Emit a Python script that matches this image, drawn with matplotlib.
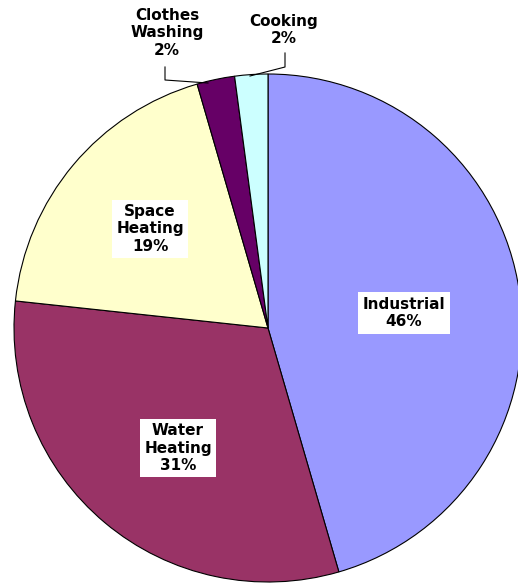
import numpy as np
import matplotlib.pyplot as plt

# slice data (clockwise from 12 o'clock)
categories = ["Industrial", "Water\nHeating", "Space\nHeating", "Clothes\nWashing", "Cooking"]
shares = [45.5, 31.2, 18.8, 2.4, 2.1]
colors = ["#9999FF", "#993366", "#FFFFCC", "#660066", "#CCFFFF"]

W, H = 518, 585
# label centres in pixel coords (from top-left)
label_pos = [(404, 313), (178, 448), (150, 229), (167, 33), (284, 30)]

fig = plt.figure(figsize=(W / 100, H / 100), dpi=100)
ax = fig.add_axes([0, 0, 1, 1])

ax.pie(shares, colors=colors, startangle=90, counterclock=False,
       center=(268, H - 328), radius=254, frame=True,
       wedgeprops=dict(edgecolor="black", linewidth=0.8))
ax.set_xlim(0, W)
ax.set_ylim(0, H)
ax.set_aspect("equal")
ax.axis("off")

for name, val, (x, y) in zip(categories, shares, label_pos):
    ax.text(x, H - y, f"{name}\n{val:.0f}%", ha="center", va="center",
            fontsize=11, fontweight="bold", linespacing=1.2,
            bbox=dict(boxstyle="square,pad=0.3", fc="white", ec="none"))

# leader lines for the two thin slices
ax.plot([165, 165, 208], [H - 67, H - 80, H - 83], color="black", lw=0.8)
ax.plot([285, 285, 250], [H - 53, H - 67, H - 76], color="black", lw=0.8)

fig.savefig("out.png", dpi=100)
